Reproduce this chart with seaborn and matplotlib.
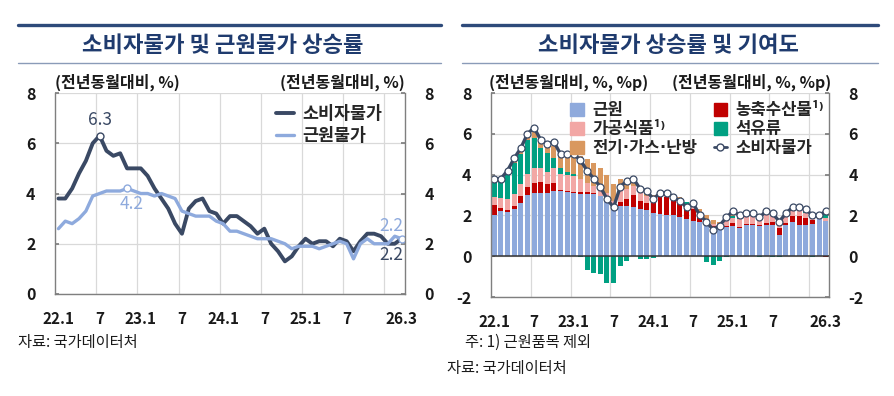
import matplotlib
matplotlib.use("Agg")
import matplotlib.pyplot as plt
import matplotlib.patches as mpatches
from matplotlib.lines import Line2D
import numpy as np
import pandas as pd
import seaborn as sns

# months 22.1 ~ 26.3
months = pd.period_range("2022-01", "2026-03", freq="M").strftime("%y.%m").tolist()
tick_pos = [0, 6, 12, 18, 24, 30, 36, 42, 50]
tick_labels = ["22.1", "7", "23.1", "7", "24.1", "7", "25.1", "7", "26.3"]

# 소비자물가 (CPI, %)
cpi = [3.8, 3.8, 4.2, 4.8, 5.3, 6.0, 6.3, 5.7, 5.5, 5.6, 5.0, 5.0,
       5.0, 4.7, 4.2, 3.8, 3.4, 2.8, 2.4, 3.4, 3.7, 3.8, 3.3, 3.2,
       2.8, 3.1, 3.1, 2.9, 2.7, 2.4, 2.6, 2.0, 1.7, 1.3, 1.5, 1.9,
       2.2, 2.0, 2.1, 2.1, 1.9, 2.2, 2.1, 1.7, 2.1, 2.4, 2.4, 2.3,
       2.0, 2.0, 2.2]
# 근원물가 (%)
core_cpi = [2.6, 2.9, 2.8, 3.0, 3.3, 3.9, 4.0, 4.1, 4.1, 4.1, 4.2, 4.1,
            4.0, 4.0, 3.9, 4.0, 3.9, 3.8, 3.3, 3.2, 3.1, 3.1, 3.1, 2.9,
            2.8, 2.5, 2.5, 2.4, 2.3, 2.2, 2.2, 2.2, 2.1, 2.0, 1.8, 1.9,
            1.9, 1.9, 1.8, 1.9, 2.0, 2.1, 2.0, 1.4, 2.0, 2.2, 2.0, 2.0,
            2.0, 2.3, 2.2]

# 기여도 (%p)
contrib_core = [2.0, 2.2, 2.15, 2.3, 2.6, 3.0, 3.1, 3.1, 3.1, 3.2, 3.2, 3.15,
                3.1, 3.05, 3.05, 3.05, 2.95, 2.8, 2.45, 2.45, 2.45, 2.4, 2.3, 2.25,
                2.1, 2.05, 2.0, 2.0, 1.9, 1.8, 1.75, 1.7, 1.6, 1.45, 1.4, 1.45,
                1.5, 1.4, 1.55, 1.55, 1.5, 1.55, 1.55, 1.05, 1.55, 1.7, 1.55, 1.55,
                1.6, 1.8, 1.75]
contrib_agri = [0.5, 0.15, 0.1, 0.15, 0.33, 0.4, 0.5, 0.55, 0.45, 0.4, 0.05, 0.03,
                0.03, 0.12, 0.08, 0.03, 0.02, 0.02, 0.05, 0.2, 0.35, 0.6, 0.4, 0.35,
                0.6, 0.85, 0.9, 0.8, 0.7, 0.6, 0.55, 0.25, 0.1, 0.05, 0.02, 0.03,
                0.13, 0.05, 0.05, 0.05, 0.05, 0.1, 0.15, 0.33, 0.1, 0.25, 0.4, 0.3,
                0.17, 0.03, -0.03]
contrib_food = [0.4, 0.5, 0.55, 0.6, 0.6, 0.65, 0.7, 0.65, 0.6, 0.7, 0.8, 0.78,
                0.8, 0.6, 0.45, 0.35, 0.35, 0.3, 0.2, 0.55, 0.5, 0.45, 0.4, 0.35,
                0.2, 0.15, 0.15, 0.1, 0.1, 0.1, 0.1, 0.15, 0.1, 0.1, 0.15, 0.25,
                0.25, 0.35, 0.4, 0.4, 0.35, 0.45, 0.35, 0.45, 0.45, 0.4, 0.4, 0.25,
                0.1, 0.08, 0.1]
contrib_oil = [0.75, 0.85, 1.4, 1.5, 1.5, 1.65, 1.5, 1.0, 0.9, 0.5, 0.25, 0.17,
               0.1, -0.05, -0.7, -0.8, -0.85, -1.3, -1.3, -0.5, -0.25, 0.0, -0.15, -0.15,
               -0.1, 0.03, 0.05, 0.1, 0.15, 0.15, 0.25, 0.05, -0.3, -0.42, -0.22, -0.05,
               0.1, 0.2, 0.05, 0.02, -0.05, 0.0, -0.03, -0.02, 0.05, 0.05, 0.05, 0.05,
               -0.05, 0.03, 0.25]
contrib_util = [0.2, 0.05, 0.05, 0.2, 0.15, 0.22, 0.3, 0.35, 0.4, 0.6, 0.65, 0.85,
                0.9, 1.15, 1.2, 1.12, 0.98, 0.88, 0.85, 0.6, 0.5, 0.45, 0.3, 0.2,
                0.1, 0.1, 0.05, 0.05, 0.03, 0.02, 0.02, 0.15, 0.2, 0.15, 0.1, 0.05,
                0.05, 0.0, 0.0, 0.0, 0.0, 0.0, 0.0, 0.0, 0.0, 0.0, 0.0, 0.0,
                0.0, 0.0, 0.0]

NAVY = "#1F3B6E"
DARK = "#3A4964"
LIGHT = "#8EAADD"
C_CORE, C_AGRI, C_FOOD, C_OIL, C_UTIL = "#8FAADC", "#C00000", "#F2A7A5", "#00A082", "#D9985F"

sns.set_theme(style="white")
plt.rcParams["font.family"] = ["Noto Sans CJK KR", "DejaVu Sans"]
plt.rcParams["axes.unicode_minus"] = False

fig = plt.figure(figsize=(8.94, 3.96), dpi=100)
W, H = 894, 396


def fx(px):
    return px / W


def fy(py):
    return 1 - py / H


# header lines and titles
for x0, x1, xc, title in [(18, 441, 223, "소비자물가 및 근원물가 상승률"),
                          (462, 878, 668, "소비자물가 상승률 및 기여도")]:
    fig.add_artist(Line2D([fx(x0), fx(x1)], [fy(25), fy(25)], color="#2E4A7A", lw=2.4))
    fig.add_artist(Line2D([fx(x0), fx(x1)], [fy(63), fy(63)], color="#8A9BB8", lw=1.0))
    fig.text(fx(xc), fy(45), title, ha="center", va="center", fontsize=16,
             fontweight="bold", color=NAVY)

idx = np.arange(len(months))


def style_axes(ax, ylim, yticks):
    ax.set_xlim(-0.5, len(months) - 0.5)
    ax.set_ylim(*ylim)
    ax.set_yticks(yticks)
    ax.set_yticklabels([str(t) for t in yticks])
    ax.set_xticks(tick_pos)
    ax.set_xticklabels(tick_labels)
    ax.set_xticks([5.5, 11.5, 17.5, 23.5, 29.5, 35.5, 41.5, 47.5], minor=True)
    ax.grid(axis="y", which="major", color="#D9D9D9", lw=0.9)
    ax.grid(axis="x", which="minor", color="#D9D9D9", lw=0.9)
    ax.set_axisbelow(True)
    for s in ["left", "right", "bottom"]:
        ax.spines[s].set_color("#7F7F7F")
        ax.spines[s].set_linewidth(1.0)
    ax.spines["top"].set_visible(False)
    ax.tick_params(axis="y", which="major", left=True, right=True, labelleft=True,
                   labelright=True, direction="in", length=3, color="#7F7F7F",
                   labelsize=11.5, pad=14)
    ax.tick_params(axis="x", which="major", bottom=False, labelsize=11, pad=6)
    ax.tick_params(axis="x", which="minor", bottom=False)
    for lab in ax.get_yticklabels() + ax.get_xticklabels():
        lab.set_fontweight("bold")
        lab.set_color("#1A1A1A")
    ax.set_xlabel("")
    ax.set_ylabel("")


# ---------- left chart ----------
ax1 = fig.add_axes([fx(55), fy(294), fx(350), (294 - 93) / H])
sns.lineplot(x=idx, y=cpi, ax=ax1, color=DARK, lw=2.8, label="소비자물가")
sns.lineplot(x=idx, y=core_cpi, ax=ax1, color=LIGHT, lw=2.4, label="근원물가")
style_axes(ax1, (0, 8), [0, 2, 4, 6, 8])

i_peak = int(np.argmax(cpi))
i_core_peak = int(np.argmax(core_cpi))
i_last = len(months) - 1
ax1.plot(i_peak, cpi[i_peak], "o", ms=5, mfc="white", mec=DARK, mew=1.0)
ax1.plot(i_core_peak, core_cpi[i_core_peak], "o", ms=5, mfc="white", mec=LIGHT, mew=1.0)
ax1.plot(i_last, core_cpi[i_last], "o", ms=5, mfc="white", mec=LIGHT, mew=1.0)
ax1.annotate(f"{cpi[i_peak]:.1f}", (i_peak, cpi[i_peak]), xytext=(0, 5),
             textcoords="offset points", ha="center", va="bottom", fontsize=12.5, color=DARK)
ax1.annotate(f"{core_cpi[i_core_peak]:.1f}", (i_core_peak, core_cpi[i_core_peak]),
             xytext=(-5, -5), textcoords="offset points", ha="left", va="top",
             fontsize=12.5, color=LIGHT)
ax1.annotate(f"{core_cpi[i_last]:.1f}", (i_last, core_cpi[i_last]), xytext=(1, 3),
             textcoords="offset points", ha="right", va="bottom", fontsize=12.5, color=LIGHT)
ax1.annotate(f"{cpi[i_last]:.1f}", (i_last, cpi[i_last]), xytext=(1, -5),
             textcoords="offset points", ha="right", va="top", fontsize=12.5, color=DARK)

ax1.legend(loc="upper right", frameon=False, handlelength=1.0,
           prop={"size": 12.5, "weight": "bold"},
           handletextpad=0.5, labelspacing=0.25, borderaxespad=0.3,
           bbox_to_anchor=(0.97, 1.0))

fig.text(fx(55), fy(82), "(전년동월대비, %)", ha="left", va="center", fontsize=11.5,
         fontweight="bold", color="#1A1A1A")
fig.text(fx(405), fy(82), "(전년동월대비, %)", ha="right", va="center", fontsize=11.5,
         fontweight="bold", color="#1A1A1A")

# ---------- right chart ----------
ax2 = fig.add_axes([fx(491), fy(297), fx(338), (297 - 93) / H])
series = [(contrib_core, C_CORE), (contrib_agri, C_AGRI), (contrib_food, C_FOOD),
          (contrib_oil, C_OIL), (contrib_util, C_UTIL)]
pos_base = np.zeros(len(months))
neg_base = np.zeros(len(months))
for vals, col in series:
    v = np.asarray(vals, dtype=float)
    bottom = np.where(v >= 0, pos_base, neg_base)
    ax2.bar(idx, v, bottom=bottom, width=0.75, color=col, linewidth=0)
    pos_base = pos_base + np.clip(v, 0, None)
    neg_base = neg_base + np.clip(v, None, 0)
ax2.axhline(0, color="#333333", lw=1.1)
sns.lineplot(x=idx, y=cpi, ax=ax2, color=DARK, lw=2.4, marker="o", markersize=5,
             markerfacecolor="white", markeredgecolor=DARK, markeredgewidth=0.9)
style_axes(ax2, (-2, 8), [-2, 0, 2, 4, 6, 8])

handles = [mpatches.Patch(color=C_CORE, label="근원"),
           mpatches.Patch(color=C_FOOD, label="가공식품¹⁾"),
           mpatches.Patch(color=C_UTIL, label="전기·가스·난방"),
           mpatches.Patch(color=C_AGRI, label="농축수산물¹⁾"),
           mpatches.Patch(color=C_OIL, label="석유류"),
           Line2D([], [], color=DARK, lw=2, marker="o", ms=5, mfc="white", mec=DARK,
                  label="소비자물가")]
leg2 = ax2.legend(handles=handles, ncol=2, loc="upper right", frameon=False,
                  prop={"size": 12, "weight": "bold"},
                  handlelength=0.8, handleheight=0.8, handletextpad=0.5, labelspacing=0.05,
                  columnspacing=1.0, borderaxespad=0.1, bbox_to_anchor=(1.01, 1.0))
for t in leg2.get_texts():
    if "·" in t.get_text():
        # narrow middle dot from DejaVu, Hangul from Noto
        t.set_fontfamily(["DejaVu Sans", "Noto Sans CJK KR"])

fig.text(fx(489), fy(82), "(전년동월대비, %, %p)", ha="left", va="center", fontsize=11.5,
         fontweight="bold", color="#1A1A1A")
fig.text(fx(831), fy(82), "(전년동월대비, %, %p)", ha="right", va="center", fontsize=11.5,
         fontweight="bold", color="#1A1A1A")

# ---------- notes ----------
fig.text(fx(18), fy(342), "자료: 국가데이터처", ha="left", va="center", fontsize=11,
         color="#1A1A1A")
fig.text(fx(465), fy(342), "주: 1) 근원품목 제외", ha="left", va="center", fontsize=11,
         color="#1A1A1A")
fig.text(fx(447), fy(368), "자료: 국가데이터처", ha="left", va="center", fontsize=11,
         color="#1A1A1A")

fig.savefig("out.png", dpi=100)
